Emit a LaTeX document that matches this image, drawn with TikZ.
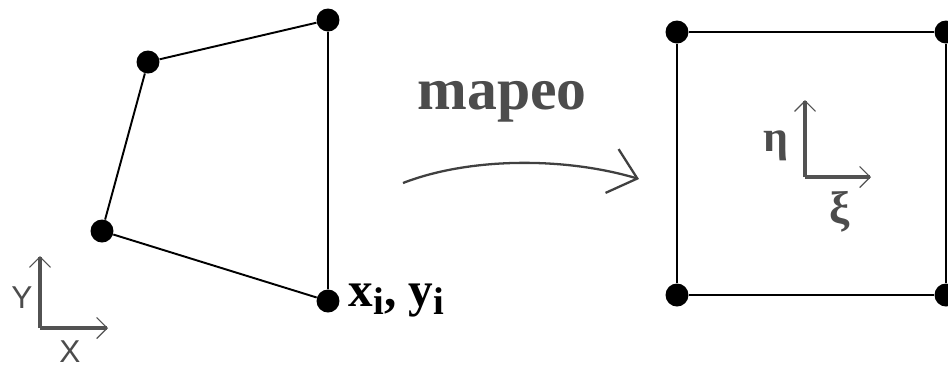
\documentclass[tikz,border=0pt]{standalone}
\usepackage{fontspec}
\setmainfont{Liberation Serif}
\setsansfont{Liberation Sans}
\usetikzlibrary{arrows.meta,positioning}

\begin{document}
\begin{tikzpicture}[
  x=0.02cm,y=-0.02cm,
  nodo/.style={circle,fill=black,inner sep=0pt,minimum size=0.46cm},
  lado/.style={black,line width=1.1pt},
  eje/.style={black!68,line width=2.2pt,-{Straight Barb[length=6pt,width=12pt,line width=0.7pt]}},
  etiq/.style={black!70,inner sep=0pt}
]
  \useasboundingbox (0,0) rectangle (948,370);

  % elemento real
  \node[nodo] (A) at (148,62) {};
  \node[nodo] (B) at (328,20) {};
  \node[nodo] (C) at (102,231) {};
  \node[nodo] (D) at (328,301) {};
  \draw[lado] (A) -- (B) -- (D) -- (C) -- (A);
  \node[right=5pt of D,inner sep=0pt,font=\bfseries\fontsize{28}{28}\selectfont] (Dlab)
    {x\raisebox{-4pt}{\fontsize{22}{22}\selectfont i}, y\raisebox{-4pt}{\fontsize{22}{22}\selectfont i}};

  % ejes X Y
  \coordinate (O1) at (40,328);
  \coordinate (Y1) at (40,256);
  \coordinate (X1) at (108,328);
  \draw[eje] (O1) -- (Y1);
  \draw[eje] (O1) -- (X1);
  \node[etiq,font=\sffamily\fontsize{18}{18}\selectfont] (Ylab) at (22,298) {Y};
  \node[etiq,font=\sffamily\fontsize{18}{18}\selectfont] (Xlab) at (70,352) {X};

  % mapeo
  \node[etiq,anchor=base,font=\bfseries\fontsize{34}{34}\selectfont] (map) at (502,109) {mapeo};
  \coordinate (ini) at (403,183);
  \coordinate (fin) at (639,179);
  \draw[black!75,line width=1.3pt,-{Straight Barb[length=15pt,width=26pt,line width=1.3pt]}]
    (ini) .. controls (470,157) and (565,157) .. (fin);

  % elemento de referencia
  \node[nodo] (P1) at (677,32) {};
  \node[nodo] (P2) at (946,32) {};
  \node[nodo] (P3) at (946,295) {};
  \node[nodo] (P4) at (677,295) {};
  \draw[lado] (P1) -- (P2) -- (P3) -- (P4) -- (P1);

  % ejes xi eta
  \coordinate (O2) at (805,177);
  \coordinate (E2) at (805,100);
  \coordinate (K2) at (871,177);
  \draw[eje] (O2) -- (E2);
  \draw[eje] (O2) -- (K2);
  \node[etiq,font=\bfseries\fontsize{25}{25}\selectfont] (eta) at (776,146) {η};
  \node[etiq,font=\bfseries\fontsize{26}{26}\selectfont] (xi) at (840,212) {ξ};
\end{tikzpicture}
\end{document}
